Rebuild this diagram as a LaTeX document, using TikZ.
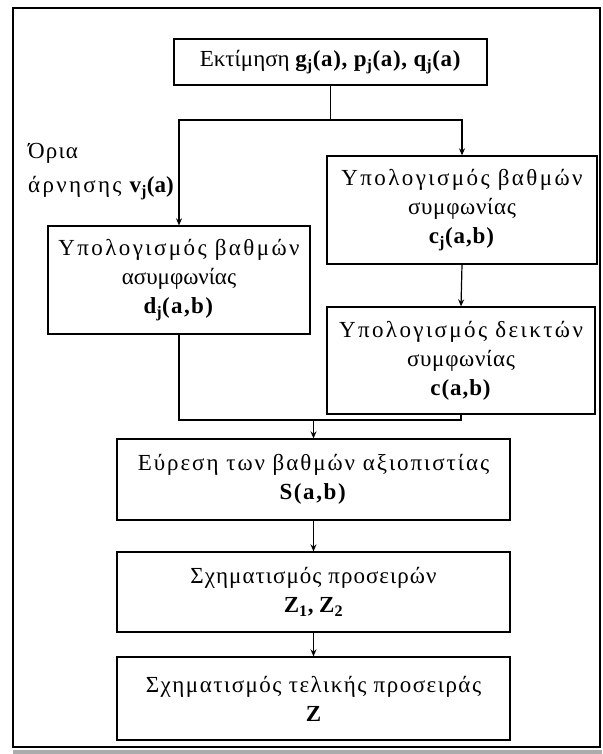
\documentclass[tikz,border=0pt]{standalone}
\usepackage{fontspec}
\setmainfont{Liberation Serif}
\usetikzlibrary{arrows.meta}
\newcommand{\lsp}[2]{{\addfontfeature{LetterSpace=#1}#2}}
\begin{document}
\begin{tikzpicture}[x=1pt,y=-1pt,
  box/.style={draw, line width=1.3pt, align=center, inner sep=0pt, font=\fontsize{23}{29}\selectfont},
  lbl/.style={inner sep=0pt, anchor=base west, font=\fontsize{23}{29}\selectfont},
  conn/.style={line width=1.2pt},
  arr/.style={conn, -{Stealth[length=7pt,width=6pt]}}]
\useasboundingbox (0,0) rectangle (602,754);
\fill[white] (0,0) rectangle (602,754);
\draw[line width=1.6pt] (13,8) rectangle (600,747);
\fill[gray!65] (13,749.5) rectangle (602,754);

\node[box, minimum width=313pt, minimum height=46pt] (top) at (330.5,62)
  {Εκτίμηση \lsp{3}{\textbf{g\textsubscript{j}(a), p\textsubscript{j}(a), q\textsubscript{j}(a)}}};
\node[box, minimum width=270pt, minimum height=108pt] (rb1) at (462,210)
  {\lsp{10.5}{Υπολογισμός βαθμών}\\\lsp{3}{συμφωνίας}\\\lsp{4}{\textbf{c\textsubscript{j}(a,b)}}};
\node[box, minimum width=268pt, minimum height=107pt] (rb2) at (461,360.5)
  {\lsp{10.5}{Υπολογισμός δεικτών}\\\lsp{3}{συμφωνίας}\\\lsp{4}{\textbf{c(a,b)}}};
\node[box, minimum width=262pt, minimum height=108pt] (lb) at (179,280)
  {\lsp{10.5}{Υπολογισμός βαθμών}\\ασυμφωνίας\\\lsp{6}{\textbf{d\textsubscript{j}(a,b)}}};
\node[box, minimum width=393pt, minimum height=81pt] (S) at (313.5,479.5)
  {\lsp{8.5}{Εύρεση των βαθμών αξιοπιστίας}\\\lsp{7}{\textbf{S(a,b)}}};
\node[box, minimum width=393pt, minimum height=80pt] (Z) at (313.5,592)
  {\lsp{4.5}{Σχηματισμός προσειρών}\\\textbf{Z\textsubscript{1}, Z\textsubscript{2}}};
\node[box, minimum width=393pt, minimum height=83pt] (F) at (313.5,698.5)
  {\lsp{6.5}{Σχηματισμός τελικής προσειράς}\\\textbf{Z}};

\node[lbl] (l1) at (28,159) {\lsp{5}{Όρια}};
\node[lbl] (l2) at (28,193) {\lsp{10}{άρνησης} \textbf{v\textsubscript{j}(a)}};

\path (0,120) coordinate (srow) (0,420) coordinate (mrow);
\coordinate (split) at (top.south |- srow);
\coordinate (merge) at (S.north |- mrow);
\draw[conn] (top.south) -- (split);
\draw[arr] (split) -| (lb.north);
\draw[arr] (split) -| (rb1.north);
\draw[arr] (rb1.south) -- (rb2.north);
\draw[conn] (lb.south) |- (merge);
\draw[conn] (rb2.south) |- (merge);
\draw[arr] (merge) -- (S.north);
\draw[arr] (S.south) -- (Z.north);
\draw[arr] (Z.south) -- (F.north);
\end{tikzpicture}
\end{document}
